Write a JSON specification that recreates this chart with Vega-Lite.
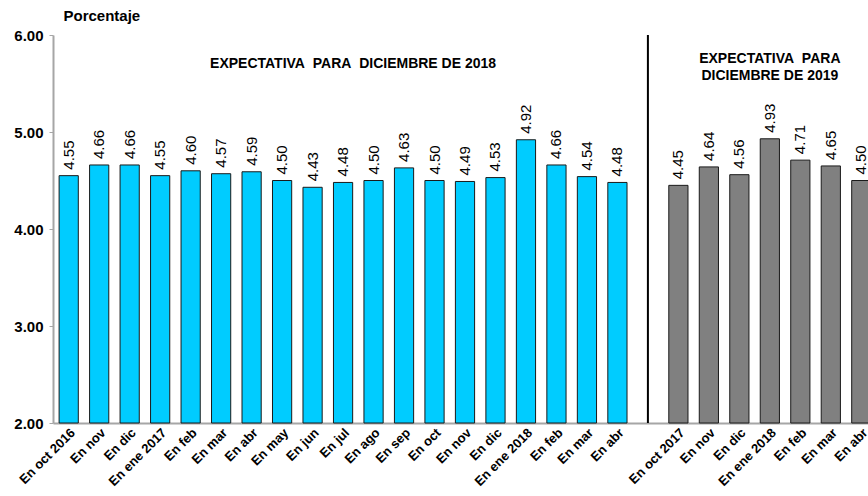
{
  "$schema": "https://vega.github.io/schema/vega-lite/v6.json",
  "autosize": "none",
  "padding": {"left": 53, "top": 35, "right": 0, "bottom": 73},
  "width": 824,
  "height": 388,
  "config": {
    "view": {"stroke": null},
    "font": "Liberation Sans"
  },
  "data": {
    "values": [
      {"id": "01|En oct 2016", "value": 4.55, "serie": "2018"},
      {"id": "02|En nov", "value": 4.66, "serie": "2018"},
      {"id": "03|En dic", "value": 4.66, "serie": "2018"},
      {"id": "04|En ene 2017", "value": 4.55, "serie": "2018"},
      {"id": "05|En feb", "value": 4.60, "serie": "2018"},
      {"id": "06|En mar", "value": 4.57, "serie": "2018"},
      {"id": "07|En abr", "value": 4.59, "serie": "2018"},
      {"id": "08|En may", "value": 4.50, "serie": "2018"},
      {"id": "09|En jun", "value": 4.43, "serie": "2018"},
      {"id": "10|En jul", "value": 4.48, "serie": "2018"},
      {"id": "11|En ago", "value": 4.50, "serie": "2018"},
      {"id": "12|En sep", "value": 4.63, "serie": "2018"},
      {"id": "13|En oct", "value": 4.50, "serie": "2018"},
      {"id": "14|En nov", "value": 4.49, "serie": "2018"},
      {"id": "15|En dic", "value": 4.53, "serie": "2018"},
      {"id": "16|En ene 2018", "value": 4.92, "serie": "2018"},
      {"id": "17|En feb", "value": 4.66, "serie": "2018"},
      {"id": "18|En mar", "value": 4.54, "serie": "2018"},
      {"id": "19|En abr", "value": 4.48, "serie": "2018"},
      {"id": "21|En oct 2017", "value": 4.45, "serie": "2019"},
      {"id": "22|En nov", "value": 4.64, "serie": "2019"},
      {"id": "23|En dic", "value": 4.56, "serie": "2019"},
      {"id": "24|En ene 2018", "value": 4.93, "serie": "2019"},
      {"id": "25|En feb", "value": 4.71, "serie": "2019"},
      {"id": "26|En mar", "value": 4.65, "serie": "2019"},
      {"id": "27|En abr", "value": 4.50, "serie": "2019"}
    ]
  },
  "encoding": {
    "x": {
      "field": "id",
      "type": "nominal",
      "scale": {
        "domain": ["01|En oct 2016","02|En nov","03|En dic","04|En ene 2017","05|En feb","06|En mar","07|En abr","08|En may","09|En jun","10|En jul","11|En ago","12|En sep","13|En oct","14|En nov","15|En dic","16|En ene 2018","17|En feb","18|En mar","19|En abr","20|","21|En oct 2017","22|En nov","23|En dic","24|En ene 2018","25|En feb","26|En mar","27|En abr"],
        "paddingInner": 0.37,
        "paddingOuter": 0.2
      },
      "axis": {
        "title": null,
        "labelExpr": "split(datum.value, '|')[1]",
        "labelAngle": -45,
        "labelFont": "Liberation Sans",
        "labelFontWeight": "bold",
        "labelFontSize": 13,
        "labelColor": "#000000",
        "labelPadding": 3,
        "ticks": false,
        "domainColor": "#a6a6a6",
        "domainWidth": 2,
        "labelOverlap": false
      }
    },
    "y": {
      "field": "value",
      "type": "quantitative",
      "scale": {"domain": [2, 6], "nice": false, "zero": false},
      "axis": {
        "values": [2, 3, 4, 5, 6],
        "format": ".2f",
        "grid": false,
        "title": "Porcentaje",
        "titleAngle": 0,
        "titleAlign": "left",
        "titleBaseline": "alphabetic",
        "titleX": 10,
        "titleY": -15,
        "titleFont": "Liberation Sans",
        "titleFontSize": 15,
        "titleFontWeight": "bold",
        "titleColor": "#000000",
        "labelFont": "Liberation Sans",
        "labelFontSize": 15,
        "labelFontWeight": "bold",
        "labelColor": "#000000",
        "labelPadding": 6,
        "tickSize": 4,
        "tickColor": "#a6a6a6",
        "domainColor": "#a6a6a6",
        "domainWidth": 2
      }
    }
  },
  "layer": [
    {
      "mark": {"type": "bar", "stroke": "#1a1a1a", "strokeWidth": 1},
      "encoding": {
        "y2": {"datum": 2},
        "color": {
          "field": "serie",
          "type": "nominal",
          "scale": {"domain": ["2018", "2019"], "range": ["#00CCFF", "#808080"]},
          "legend": null
        }
      }
    },
    {
      "mark": {"type": "text", "angle": -90, "align": "left", "baseline": "middle", "dx": 6, "fontSize": 15, "font": "Liberation Sans", "color": "#000000"},
      "encoding": {
        "text": {"field": "value", "type": "quantitative", "format": ".2f"}
      }
    },
    {
      "transform": [{"filter": "datum.id == '19|En abr'"}],
      "mark": {"type": "rule", "color": "#000000", "strokeWidth": 2},
      "encoding": {"x": {"datum": "20|"}, "y": null}
    },
    {
      "transform": [{"filter": "datum.id == '10|En jul'"}],
      "mark": {"type": "text", "text": "EXPECTATIVA\u00a0 PARA\u00a0 DICIEMBRE DE 2018", "fontSize": 14, "fontWeight": "bold", "font": "Liberation Sans", "color": "#000000", "align": "center", "baseline": "middle", "dx": 10},
      "encoding": {"y": {"datum": 5.70}}
    },
    {
      "transform": [{"filter": "datum.id == '24|En ene 2018'"}],
      "mark": {"type": "text", "text": ["EXPECTATIVA\u00a0 PARA", "DICIEMBRE DE 2019"], "lineHeight": 17, "fontSize": 14, "fontWeight": "bold", "font": "Liberation Sans", "color": "#000000", "align": "center", "baseline": "middle"},
      "encoding": {"y": {"datum": 5.753}}
    }
  ]
}
